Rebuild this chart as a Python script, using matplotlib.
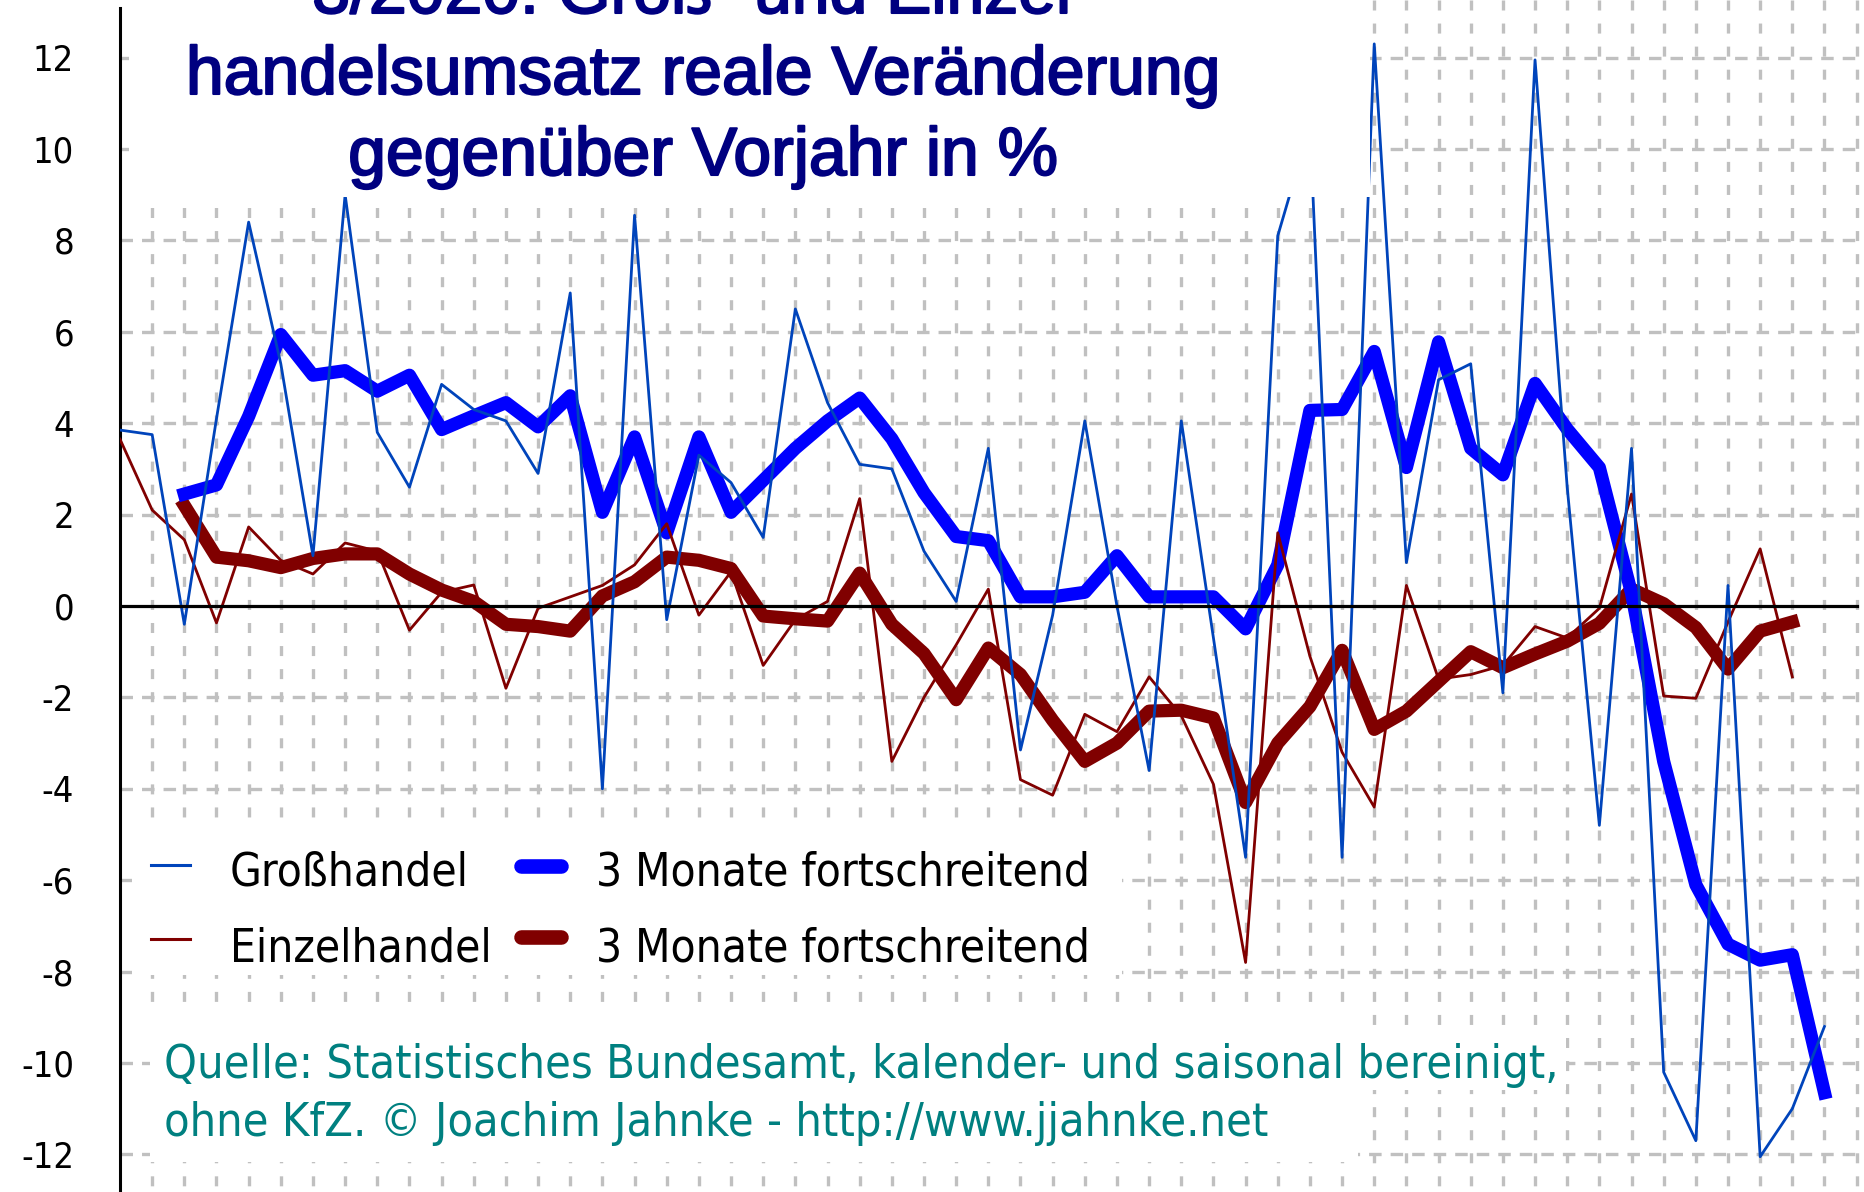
import matplotlib
matplotlib.use("Agg")
import matplotlib.pyplot as plt
import matplotlib.patheffects as patheffects
from matplotlib import font_manager
from matplotlib.lines import Line2D
from matplotlib.patches import Rectangle
import numpy as np

plt.rcParams["lines.scale_dashes"] = False

# ---- data (% change vs. previous year, monthly) ----
gross_monthly = [
    3.85, 3.75, -0.4, 4.1, 8.4, 5.3, 1.1, 9.0, 3.8, 2.6,
    4.85, 4.3, 4.05, 2.9, 6.85, -4.0, 8.55, -0.3, 3.3, 2.7,
    1.5, 6.5, 4.45, 3.1, 3.0, 1.2, 0.1, 3.45, -3.15, -0.2,
    4.05, 0.0, -3.6, 4.05, -0.7, -5.5, 8.1, 10.5, -5.5, 12.3,
    0.95, 4.95, 5.3, -1.9, 11.95, 2.6, -4.8, 3.45, -10.2, -11.7,
    0.45, -12.05, -11.0, -9.2,
]
gross_avg3 = [  # starts at month 3
    2.45, 2.65, 4.15, 5.94, 5.05, 5.15, 4.7, 5.05, 3.86, 4.16,
    4.45, 3.92, 4.6, 2.05, 3.7, 1.6, 3.7, 2.05, 2.75, 3.45,
    4.05, 4.55, 3.66, 2.48, 1.52, 1.43, 0.2, 0.2, 0.3, 1.1,
    0.2, 0.2, 0.2, -0.5, 0.9, 4.28, 4.3, 5.57, 3.03, 5.78,
    3.45, 2.87, 4.87, 3.87, 3.03, 0.28, -3.4, -6.1, -7.4, -7.75,
    -7.63, -10.65,
]
einzel_monthly = [
    3.65, 2.1, 1.45, -0.37, 1.73, 1.0, 0.7, 1.38, 1.2, -0.53,
    0.3, 0.46, -1.8, -0.05, 0.2, 0.45, 0.9, 1.8, -0.2, 0.75,
    -1.3, -0.3, 0.1, 2.35, -3.4, -2.0, -0.85, 0.37, -3.8, -4.14,
    -2.37, -2.75, -1.55, -2.4, -3.9, -7.8, 1.6, -1.1, -3.2, -4.4,
    0.45, -1.6, -1.5, -1.3, -0.45, -0.7, -0.05, 2.45, -1.97, -2.02,
    -0.35, 1.25, -1.55,
]
einzel_avg3 = [  # starts at month 3
    2.2, 1.07, 0.99, 0.84, 1.04, 1.14, 1.14, 0.7, 0.35, 0.1,
    -0.4, -0.45, -0.55, 0.22, 0.53, 1.07, 1.0, 0.82, -0.22, -0.28,
    -0.33, 0.72, -0.4, -1.04, -2.05, -0.92, -1.5, -2.5, -3.4, -3.0,
    -2.3, -2.28, -2.45, -4.3, -3.0, -2.2, -0.97, -2.7, -2.3, -1.65,
    -1.0, -1.35, -1.05, -0.77, -0.38, 0.37, 0.05, -0.47, -1.38, -0.55,
    -0.35,
]
y_ticks = list(range(-12, 13, 2))

title_lines = [
    "3/2020: Groß- und Einzel-",
    "handelsumsatz reale Veränderung",
    "gegenüber Vorjahr in %",
]
legend_labels = ["Großhandel", "3 Monate fortschreitend",
                 "Einzelhandel", "3 Monate fortschreitend"]
source_lines = [
    "Quelle: Statistisches Bundesamt, kalender- und saisonal bereinigt,",
    "ohne KfZ. © Joachim Jahnke - http://www.jjahnke.net",
]

# ---- layout (pixels of the 1865x1192 reference) ----
FIG_W_PX, FIG_H_PX, DPI = 1865, 1192, 100
AXIS_X_PX = 120.0     # y axis position
MONTH_PX = 32.16      # one month
ZERO_Y_PX = 606.0     # 0 % line
PCT_PX = 45.7         # one percent

BLUE_THIN = "#0044bb"
BLUE_THICK = "#0000ff"
RED = "#800000"
GRID = "#c0c0c0"
NAVY = "#000080"
TEAL = "#008080"


def narrow_font():
    # the reference uses a narrow sans; take whichever condensed face is installed
    wanted = ["liberationsansnarrow-regular", "dejavusanscondensed.ttf",
              "notosans-condensed.ttf", "robotocondensed-regular",
              "roboto_condensed-regular", "opensans-condensedregular",
              "opensans_condensed-regular", "notosans-semicondensed.ttf"]
    paths = [f.fname for f in font_manager.fontManager.ttflist]
    for key in wanted:
        for path in paths:
            if key in path.lower():
                return font_manager.FontProperties(fname=path)
    return font_manager.FontProperties(family=["Liberation Sans", "DejaVu Sans"])


NARROW_FP = narrow_font()
TITLE_FP = font_manager.FontProperties(family=["Liberation Sans", "DejaVu Sans"])


def fig_xy(px, py):
    return px / FIG_W_PX, 1.0 - py / FIG_H_PX


def white_box(ax, left, top, right, bottom):
    x0, y0 = fig_xy(left, bottom)
    x1, y1 = fig_xy(right, top)
    ax.add_patch(Rectangle((x0, y0), x1 - x0, y1 - y0, transform=ax.figure.transFigure,
                           facecolor="white", edgecolor="none", zorder=6, clip_on=False))


def fig_text(ax, px, py, s, fp, size, **kw):
    x, y = fig_xy(px, py)
    prop = fp.copy()
    prop.set_size(size)
    return ax.text(x, y, s, transform=ax.figure.transFigure, zorder=7,
                   fontproperties=prop, **kw)


def fig_line(ax, x0, x1, py, **kw):
    a = fig_xy(x0, py)
    b = fig_xy(x1, py)
    ax.add_line(Line2D([a[0], b[0]], [a[1], b[1]], transform=ax.figure.transFigure,
                       zorder=7, clip_on=False, **kw))


def fitted_size(fp, text, size, target_px):
    # font size at which `text` is target_px wide
    prop = fp.copy()
    prop.set_size(size)
    probe = fig.text(0, 0, text, fontproperties=prop)
    width = probe.get_window_extent(fig.canvas.get_renderer()).width
    probe.remove()
    return size * target_px / width


fig = plt.figure(figsize=(FIG_W_PX / DPI, FIG_H_PX / DPI), dpi=DPI, facecolor="white")
ax = fig.add_axes([AXIS_X_PX / FIG_W_PX, 0, 1 - AXIS_X_PX / FIG_W_PX, 1])
x_max = (FIG_W_PX - AXIS_X_PX) / MONTH_PX
y_lo = (ZERO_Y_PX - FIG_H_PX) / PCT_PX
y_hi = ZERO_Y_PX / PCT_PX
ax.set_xlim(0, x_max)
ax.set_ylim(y_lo, y_hi)
ax.set_facecolor("white")

legend_size = fitted_size(NARROW_FP, legend_labels[1], 41, 495)
source_size = fitted_size(NARROW_FP, source_lines[0], 41, 1395)
title_size = fitted_size(TITLE_FP, title_lines[1], 50, 1036)

for side in ("top", "right", "bottom"):
    ax.spines[side].set_visible(False)
ax.spines["left"].set_linewidth(2.2)
ax.spines["left"].set_bounds(y_lo, (ZERO_Y_PX - 8) / PCT_PX)
ax.set_xticks([])
ax.set_yticks(y_ticks)
tick_fp = NARROW_FP.copy()
tick_fp.set_size(26)
ax.set_yticklabels([str(v) for v in y_ticks], fontproperties=tick_fp)
ax.tick_params(axis="y", length=0, pad=33)

# dashed grid: one vertical line per month, horizontal every 2 %
n_grid = 54
for i in range(1, n_grid + 1):
    ax.plot([i, i], [y_hi, y_lo], color=GRID, lw=2.4, ls=(0, (7.2, 9.4)), zorder=1)
for v in y_ticks:
    if v != 0:
        ax.plot([0, n_grid], [v, v], color=GRID, lw=2.4, ls=(0, (9, 6.5)), zorder=1)

x_gross = np.arange(len(gross_monthly))
x_gross_avg = np.arange(2, 2 + len(gross_avg3))
x_einzel = np.arange(len(einzel_monthly))
x_einzel_avg = np.arange(2, 2 + len(einzel_avg3))

ax.plot(x_einzel_avg, einzel_avg3, color=RED, lw=9.5, solid_capstyle="projecting", zorder=2)
ax.plot(x_gross_avg, gross_avg3, color=BLUE_THICK, lw=9.5, solid_capstyle="projecting", zorder=3)
ax.plot(x_einzel, einzel_monthly, color=RED, lw=2.0, zorder=4)
ax.plot(x_gross, gross_monthly, color=BLUE_THIN, lw=2.0, zorder=4.5)
ax.plot([0, n_grid], [0, 0], color="black", lw=2.3, zorder=5)

# title block (covers grid and data beneath it); heavier strokes like the original
white_box(ax, 129, -5, 1370, 197)
heavy = [patheffects.withStroke(linewidth=1.5, foreground=NAVY)]
for line, base in zip(title_lines, [13, 94, 175]):
    t = fig_text(ax, 703, base, line, TITLE_FP, title_size, ha="center", va="baseline", color=NAVY)
    t.set_path_effects(heavy)

# legend
white_box(ax, 132, 825, 1122, 975)
fig_line(ax, 151, 190, 865, color=BLUE_THIN, lw=2.2)
fig_line(ax, 151, 190, 939, color=RED, lw=2.2)
fig_line(ax, 521, 561, 866, color=BLUE_THICK, lw=10.5, solid_capstyle="round")
fig_line(ax, 521, 561, 937, color=RED, lw=10.5, solid_capstyle="round")
for label, (px, py) in zip(legend_labels, [(230, 886), (596, 886), (230, 961), (596, 961)]):
    fig_text(ax, px, py, label, NARROW_FP, legend_size, ha="left", va="baseline", color="black")

# source note
white_box(ax, 150, 1013, 1358, 1162)
white_box(ax, 150, 1035, 1566, 1090)
fig_text(ax, 164, 1078, source_lines[0], NARROW_FP, source_size, ha="left", va="baseline", color=TEAL)
fig_text(ax, 164, 1136, source_lines[1], NARROW_FP, source_size, ha="left", va="baseline", color=TEAL)

fig.savefig("out.png", dpi=DPI, facecolor="white")
